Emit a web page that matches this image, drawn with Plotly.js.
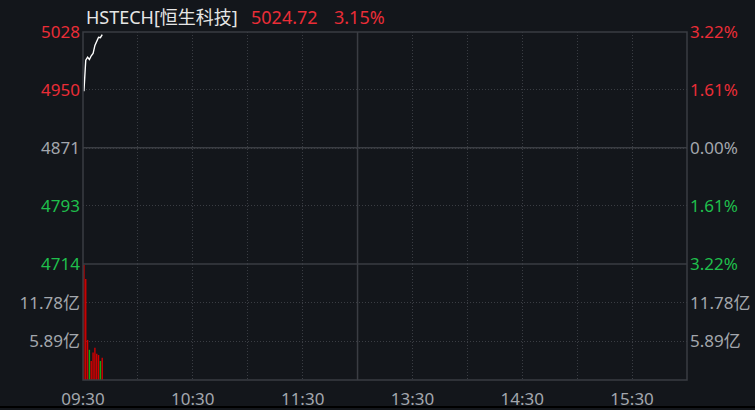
<!DOCTYPE html>
<html><head><meta charset="utf-8">
<script src="https://cdn.plot.ly/plotly-3.0.1.min.js"></script>
<style>html,body{margin:0;padding:0;background:#13161b;}#chart{width:755px;height:410px;}</style>
</head><body><div id="chart"></div>
<script>
// ---- data ----
const indexName = 'HSTECH[恒生科技]';
const lastPrice = '5024.72';
const changePct = '3.15%';
const prevClose = 4871.26;

const minutes = [0, 1, 2, 3, 4, 5, 6, 7, 8, 9, 10];
const prices  = [4948, 4990, 4994, 4991, 4996, 4999, 5010, 5016, 5021, 5020.5, 5024.72];
const volumes = [17.5, 15.4, 6.1, 4.6, 2.9, 4.2, 4.9, 4.0, 3.8, 2.9, 3.4]; // 亿

const priceTickVals = [4714, 4793, 4871, 4950, 5028];
const priceTickText = ['4714', '4793', '4871', '4950', '5028'];
const pctTickText   = ['3.22%', '1.61%', '0.00%', '1.61%', '3.22%'];
const volTickVals = [5.89, 11.78];
const volTickText = ['5.89亿', '11.78亿'];
const timeTickVals = [0, 30, 60, 90, 120, 150, 180, 210, 240, 270, 300, 330];
const timeTickText = ['09:30', '', '10:30', '', '11:30', '', '13:30', '', '14:30', '', '15:30', ''];
const priceRange = [4713.9, 5028.2];
const volRange = [0, 17.67];
const sessionBreak = 150;

// ---- styles ----
const RED = '#ea2d37', GREEN = '#1fbf4c', GRAY = '#a3a7ad', WHITE = '#e6e6e6';
const BG = '#13161b', LINE = '#3a3d43';
const FONT = 'Noto Sans, Noto Sans CJK SC, sans-serif';

function tone(v) {
  if (Math.abs(v - prevClose) < 1) return GRAY;
  return v > prevClose ? RED : GREEN;
}
const coloredPrice = priceTickText.map((t, i) => `<span style="color:${tone(priceTickVals[i])}">${t}</span>`);
const coloredPct = pctTickText.map((t, i) => `<span style="color:${tone(priceTickVals[i])}">${t}</span>`);
const barColors = prices.map((p, i) => (p >= (i === 0 ? prevClose : prices[i - 1]) ? '#d40000' : '#13a813'));
// each minute is drawn in the middle of its one-minute slot
const slotX = minutes.map(m => m + 0.5);

const traces = [
  {type: 'bar', x: slotX, y: volumes, xaxis: 'x', yaxis: 'y2', width: 0.75,
   marker: {color: barColors, line: {width: 0}}, hoverinfo: 'skip'},
  {type: 'scatter', mode: 'lines', x: slotX, y: prices, xaxis: 'x', yaxis: 'y',
   line: {color: '#ffffff', width: 1.4}, hoverinfo: 'skip'},
  {type: 'scatter', mode: 'lines', x: slotX, y: prices, xaxis: 'x', yaxis: 'y3',
   line: {color: 'rgba(0,0,0,0)', width: 0}, hoverinfo: 'skip'},
  {type: 'scatter', mode: 'lines', x: slotX, y: volumes, xaxis: 'x', yaxis: 'y4',
   line: {color: 'rgba(0,0,0,0)', width: 0}, hoverinfo: 'skip'}
];

const split = 116 / 348;
const gridCommon = {showgrid: true, gridcolor: LINE, gridwidth: 1, griddash: '1px,2px', zeroline: false, showline: false, ticks: '', fixedrange: true};

const layout = {
  width: 755, height: 410,
  paper_bgcolor: BG, plot_bgcolor: BG,
  margin: {l: 83, r: 68, t: 32, b: 30, pad: 0},
  showlegend: false,
  font: {family: FONT, size: 17, color: GRAY},
  xaxis: Object.assign({}, gridCommon, {range: [0, 330], tickvals: timeTickVals, ticktext: timeTickText,
    anchor: 'y2', ticklabelstandoff: 7}),
  yaxis: Object.assign({}, gridCommon, {domain: [split, 1], range: priceRange, tickvals: priceTickVals,
    ticktext: coloredPrice, ticklabelstandoff: 2}),
  yaxis2: Object.assign({}, gridCommon, {domain: [0, split], range: volRange, tickvals: volTickVals,
    ticktext: volTickText, ticklabelstandoff: 2}),
  yaxis3: Object.assign({}, gridCommon, {overlaying: 'y', side: 'right', showgrid: false, range: priceRange,
    tickvals: priceTickVals, ticktext: coloredPct, ticklabelstandoff: 2}),
  yaxis4: Object.assign({}, gridCommon, {overlaying: 'y2', side: 'right', showgrid: false, range: volRange,
    tickvals: volTickVals, ticktext: volTickText, ticklabelstandoff: 2}),
  shapes: [
    {type: 'rect', xref: 'paper', yref: 'paper', x0: 0, x1: 1, y0: 0, y1: 1, line: {color: LINE, width: 1.5}, layer: 'above'},
    {type: 'line', xref: 'paper', yref: 'paper', x0: 0, x1: 1, y0: split, y1: split, line: {color: LINE, width: 1.5}, layer: 'above'},
    {type: 'line', xref: 'paper', yref: 'y', x0: 0, x1: 1, y0: prevClose, y1: prevClose, line: {color: LINE, width: 1.5}, layer: 'above'},
    {type: 'line', xref: 'x', yref: 'paper', x0: sessionBreak, x1: sessionBreak, y0: 0, y1: 1, line: {color: LINE, width: 1.5}, layer: 'above'},
    {type: 'line', xref: 'paper', yref: 'paper', x0: -0.2, x1: 1.2, y0: -27 / 348, y1: -27 / 348, line: {color: '#000000', width: 2}, layer: 'above'}
  ],
  annotations: [
    {xref: 'paper', yref: 'paper', x: 1 / 604, y: 1 + 15 / 348, xanchor: 'left', yanchor: 'middle', showarrow: false,
     text: indexName, font: {family: FONT, size: 18, color: WHITE}},
    {xref: 'paper', yref: 'paper', x: 166 / 604, y: 1 + 15 / 348, xanchor: 'left', yanchor: 'middle', showarrow: false,
     text: lastPrice, font: {family: FONT, size: 18, color: RED}},
    {xref: 'paper', yref: 'paper', x: 249 / 604, y: 1 + 15 / 348, xanchor: 'left', yanchor: 'middle', showarrow: false,
     text: changePct, font: {family: FONT, size: 18, color: RED}}
  ]
};

Plotly.newPlot('chart', traces, layout, {displayModeBar: false, staticPlot: true});
</script>
</body></html>
